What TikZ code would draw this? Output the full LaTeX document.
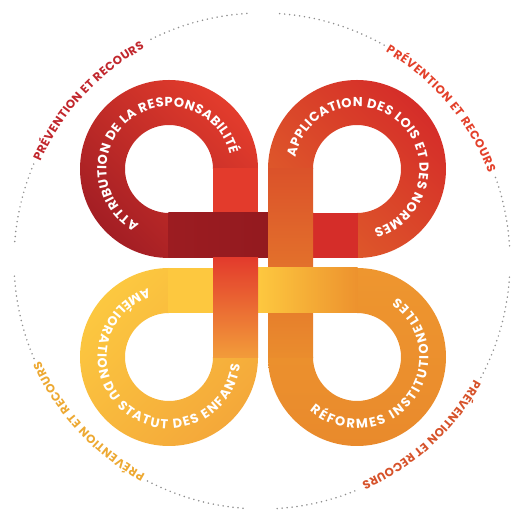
\documentclass[tikz,border=0pt]{standalone}
\usepackage{fontspec}
\newfontfamily\pop{Poppins}
\usetikzlibrary{decorations.text}
\definecolor{tlBright}{HTML}{E33C2C}
\definecolor{tlDark}{HTML}{A31E24}
\definecolor{hDark}{HTML}{9C1C21}
\definecolor{hDarkR}{HTML}{931A1F}
\definecolor{trRed}{HTML}{D52D29}
\definecolor{trOrange}{HTML}{DF5E2A}
\definecolor{vTop}{HTML}{DB522A}
\definecolor{vBot}{HTML}{EA8D2D}
\definecolor{brA}{HTML}{EE962F}
\definecolor{brB}{HTML}{E98A2C}
\definecolor{yel}{HTML}{FDC83F}
\definecolor{yelOr}{HTML}{ED922E}
\definecolor{blA}{HTML}{FCC840}
\definecolor{blB}{HTML}{F4A83A}
\definecolor{v1Red}{HTML}{E33B2C}
\definecolor{v1Or}{HTML}{F29C3A}
\definecolor{pTL}{HTML}{C1272D}
\definecolor{pTR}{HTML}{E3412B}
\definecolor{pBL}{HTML}{EDA933}
\definecolor{pBR}{HTML}{D6522A}
\definecolor{dotc}{HTML}{8E8E8E}
\tikzset{
  looptext/.style={decorate, decoration={text along path, text align=fit to path, text color=white,
     text={|\pop\bfseries\fontsize{13}{13}\selectfont|#1}}},
  prevtext/.style 2 args={decorate, decoration={text along path, text align=fit to path, text color=#1,
     text={|\pop\bfseries\fontsize{11.8}{11.8}\selectfont|#2}}},
  dotarc/.style={draw=dotc, line width=1.7pt, line cap=round, dash pattern=on 0pt off 5pt}
}
\begin{document}
\begin{tikzpicture}[x=1pt,y=1pt]
\useasboundingbox (0,0) rectangle (517,510);
\coordinate (C1) at (169,341);
\coordinate (C2) at (357,341);
\coordinate (C3) at (169,153);
\coordinate (C4) at (357,153);
\coordinate (D) at (262,249);

% rings
\shade[top color=tlBright, bottom color=tlDark, shading angle=-45]
  ([shift={(0:89)}]C1) arc[start angle=0,end angle=270,radius=89] -- ++(0,45)
  arc[start angle=270,end angle=0,radius=44] -- cycle;
\shade[top color=trRed, bottom color=trOrange, shading angle=-45]
  ([shift={(-90:89)}]C2) arc[start angle=-90,end angle=180,radius=89] -- ++(45,0)
  arc[start angle=180,end angle=-90,radius=44] -- cycle;
\shade[top color=blA, bottom color=blB, shading angle=45]
  ([shift={(90:89)}]C3) arc[start angle=90,end angle=360,radius=89] -- ++(-45,0)
  arc[start angle=360,end angle=90,radius=44] -- cycle;
\shade[top color=brA, bottom color=brB]
  ([shift={(180:89)}]C4) arc[start angle=180,end angle=450,radius=89] -- ++(0,-45)
  arc[start angle=90,end angle=-180,radius=44] -- cycle;

% bands
\fill[v1Red] (213,252) rectangle (258,341.6);
\shade[top color=vTop, bottom color=vBot] (268,152.4) rectangle (313,341.6);
\shade[left color=hDark, right color=hDarkR] (168.4,252) rectangle (268,297);
\fill[trRed] (268,252) rectangle (357.6,297);
\fill[yel] (168.4,197) rectangle (258,242);
\shade[left color=yel, right color=yelOr] (258,197) rectangle (357.6,242);
\begin{scope}
  \clip (266,252) rectangle (315,297);
  \shade[top color=vTop, bottom color=vBot] (268,152.4) rectangle (313,341.6);
\end{scope}
\shade[top color=v1Red, bottom color=v1Or] (213,152.4) rectangle (258,252.2);

% loop texts
\path[looptext={ATTRIBUTION DE LA RESPONSABILITÉ}]
  ([shift={(241.5:62.5)}]C1) arc[start angle=241.5,end angle=13.5,radius=62.5];
\path[looptext={APPLICATION DES LOIS ET DES NORMES}]
  ([shift={(169.5:62.5)}]C2) arc[start angle=169.5,end angle=-74.5,radius=62.5];
\path[looptext={AMÉLIORATION DU STATUT DES ENFANTS}]
  ([shift={(107:71.5)}]C3) arc[start angle=107,end angle=354,radius=71.5];
\path[looptext={RÉFORMES INSTITUTIONELLES}]
  ([shift={(228.6:71.5)}]C4) arc[start angle=228.6,end angle=416,radius=71.5];

% outer texts
\path[prevtext={pTL}{PRÉVENTION ET RECOURS}]
  ([shift={(155.8:243)}]D) arc[start angle=155.8,end angle=118.9,radius=243];
\path[prevtext={pTR}{PRÉVENTION ET RECOURS}]
  ([shift={(59.4:243)}]D) arc[start angle=59.4,end angle=21.2,radius=243];
\path[prevtext={pBL}{PRÉVENTION ET RECOURS}]
  ([shift={(241.3:243)}]D) arc[start angle=241.3,end angle=204.2,radius=243];
\path[prevtext={pBR}{PRÉVENTION ET RECOURS}]
  ([shift={(330.8:243)}]D) arc[start angle=330.8,end angle=294.2,radius=243];

% dotted circle arcs
\foreach \a/\b in {93.5/117.5, 157/176.5, 183.5/203.5, 242.5/266.5, 273.5/293, 332/356.5, 3.5/20, 60.5/86.5}{
  \path[dotarc] ([shift={(\a:248)}]D) arc[start angle=\a,end angle=\b,radius=248];
}
\end{tikzpicture}
\end{document}
